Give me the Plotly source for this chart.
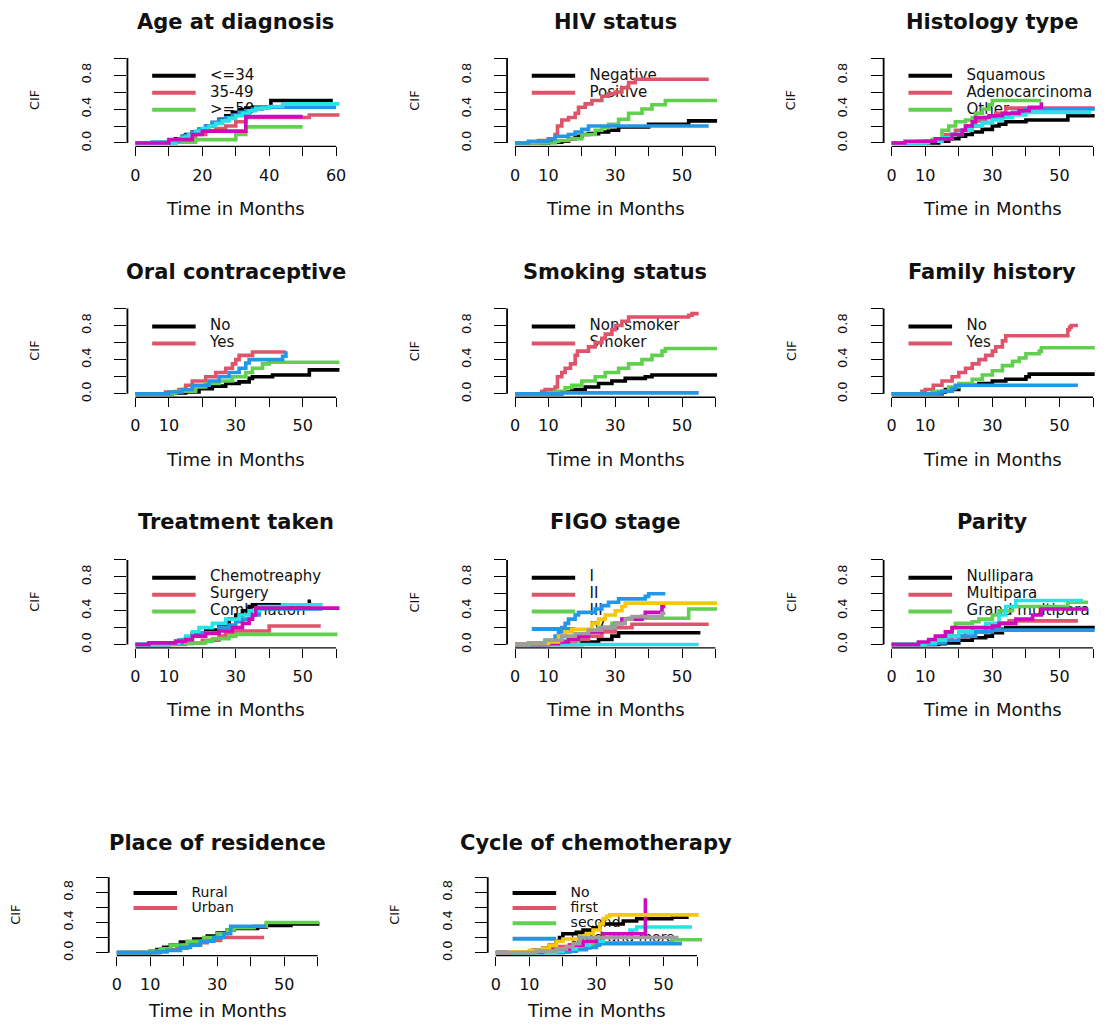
import plotly.graph_objects as go

# ---------------- data ----------------
PALETTE = ["#000000", "#DF536B", "#61D04F", "#2297E6", "#28E2E5", "#CD0BBC", "#F5C710", "#9E9E9E"]

x_tick_vals = [0, 10, 20, 30, 40, 50, 60]
x_tick_text_a = ["0", "", "20", "", "40", "", "60"]
x_tick_text_b = ["0", "10", "", "30", "", "50", ""]
y_tick_vals = [0, 0.2, 0.4, 0.6, 0.8, 1.0]
y_tick_text = ["0.0", "", "0.4", "", "0.8", ""]

# 1 Age at diagnosis
age_labels = ["<=34", "35-49", ">=50"]
age_times = [
    [0, 10, 12, 14, 15, 17, 19, 21, 23, 25, 27, 29, 31, 33, 35, 40.5, 59],
    [0, 12, 15, 18, 21, 24, 27, 30, 33, 52, 61],
    [0, 12, 18, 30, 33, 50],
    [0, 5, 10, 13, 15, 17, 19, 21, 23, 25, 27, 29, 31, 33, 35, 38, 60],
    [0, 12, 14, 16, 18, 20, 22, 24, 26, 28, 30, 32, 34, 36, 40, 44, 61],
    [0, 10, 17, 20, 33, 50],
]
age_cif = [
    [0, 0.02, 0.05, 0.08, 0.1, 0.13, 0.16, 0.2, 0.24, 0.28, 0.32, 0.36, 0.39, 0.41, 0.42, 0.5, 0.5],
    [0, 0.02, 0.06, 0.1, 0.14, 0.17, 0.2, 0.25, 0.3, 0.33, 0.33],
    [0, 0.01, 0.04, 0.1, 0.19, 0.19],
    [0, 0.01, 0.02, 0.05, 0.09, 0.13, 0.16, 0.2, 0.24, 0.27, 0.3, 0.33, 0.36, 0.38, 0.4, 0.42, 0.42],
    [0, 0.03, 0.07, 0.1, 0.14, 0.17, 0.2, 0.23, 0.26, 0.29, 0.32, 0.35, 0.38, 0.41, 0.43, 0.46, 0.46],
    [0, 0.04, 0.1, 0.14, 0.31, 0.31],
]

# 2 HIV status
hiv_labels = ["Negative", "Positive"]
hiv_times = [
    [0, 10, 14, 16, 18, 20, 22, 25, 28, 31, 40, 52, 60.5],
    [0, 7, 10, 12, 12.7, 14, 16, 18, 19, 21, 23, 26, 28, 30, 32, 34, 36, 58],
    [0, 12, 13, 16, 20, 24, 26, 28, 31, 34, 38, 41, 45, 60.5],
    [0, 4, 10, 12, 16, 18, 20, 22, 58],
]
hiv_cif = [
    [0, 0.01, 0.02, 0.05, 0.08, 0.1, 0.11, 0.13, 0.15, 0.19, 0.22, 0.26, 0.26],
    [0, 0.03, 0.05, 0.1, 0.2, 0.27, 0.3, 0.35, 0.42, 0.46, 0.5, 0.55, 0.58, 0.6, 0.65, 0.71, 0.75, 0.75],
    [0, 0.02, 0.03, 0.05, 0.1, 0.15, 0.18, 0.22, 0.28, 0.35, 0.4, 0.45, 0.5, 0.5],
    [0, 0.02, 0.05, 0.08, 0.1, 0.13, 0.16, 0.2, 0.2],
]

# 3 Histology type
hist_labels = ["Squamous", "Adenocarcinoma", "Other"]
hist_times = [
    [0, 14, 17, 20, 22, 24, 27, 30, 32, 34, 40, 52.5, 60.5],
    [0, 10, 13, 16, 19, 22, 25, 28, 31, 34, 60.5],
    [0, 8, 12, 15, 17, 19, 22, 24, 25, 27, 29, 30, 44.6],
    [0, 10, 14, 18, 21, 24, 27, 30, 33, 36, 40, 60.5],
    [0, 11, 15, 18, 21, 24, 27, 30, 33, 36, 40, 59.5],
    [0, 4, 13, 18, 21, 22, 24, 25, 29, 33, 38, 41, 44.6],
]
hist_cif = [
    [0, 0.02, 0.05, 0.08, 0.1, 0.13, 0.16, 0.2, 0.22, 0.25, 0.27, 0.32, 0.32],
    [0, 0.02, 0.05, 0.1, 0.15, 0.2, 0.26, 0.3, 0.35, 0.41, 0.41],
    [0, 0.02, 0.04, 0.15, 0.2, 0.25, 0.27, 0.3, 0.35, 0.4, 0.45, 0.5, 0.5],
    [0, 0.02, 0.05, 0.1, 0.15, 0.2, 0.24, 0.28, 0.32, 0.36, 0.4, 0.4],
    [0, 0.02, 0.06, 0.1, 0.15, 0.2, 0.24, 0.27, 0.3, 0.33, 0.36, 0.36],
    [0, 0.02, 0.05, 0.1, 0.15, 0.2, 0.25, 0.3, 0.32, 0.35, 0.38, 0.42, 0.48],
]

# 4 Oral contraceptive
oral_labels = ["No", "Yes"]
oral_times = [
    [0, 11, 15, 19, 23, 27, 31, 34, 35, 41, 52, 61],
    [0, 9, 13, 15, 17, 21, 24, 27, 29, 30, 31, 35, 45],
    [0, 12, 18, 21, 25, 29, 33, 35, 38, 40, 61],
    [0, 10, 14, 17, 22, 25, 28, 31, 33, 34, 44, 45],
]
oral_cif = [
    [0, 0.01, 0.02, 0.06, 0.09, 0.12, 0.14, 0.18, 0.2, 0.22, 0.28, 0.28],
    [0, 0.02, 0.05, 0.1, 0.15, 0.2, 0.25, 0.3, 0.35, 0.4, 0.45, 0.49, 0.49],
    [0, 0.03, 0.08, 0.12, 0.15, 0.2, 0.25, 0.3, 0.35, 0.37, 0.37],
    [0, 0.02, 0.05, 0.1, 0.15, 0.2, 0.25, 0.3, 0.36, 0.4, 0.44, 0.5],
]

# 5 Smoking status
smk_labels = ["Non smoker", "Smoker"]
smk_times = [
    [0, 14, 17, 21, 25, 29, 33, 39, 41, 60.5],
    [0, 8, 9, 12, 12.7, 14, 15, 16.6, 18, 18.7, 22, 24, 26, 27, 29, 30, 32, 34, 52, 53, 55],
    [0, 10, 12, 15, 17, 20, 24, 27, 31, 34, 38, 41, 44, 45, 60.5],
    [0, 14, 55],
]
smk_cif = [
    [0, 0.02, 0.05, 0.08, 0.12, 0.15, 0.18, 0.2, 0.22, 0.22],
    [0, 0.03, 0.05, 0.08, 0.2, 0.25, 0.3, 0.35, 0.45, 0.5, 0.55, 0.6, 0.65, 0.7, 0.75, 0.8, 0.85, 0.9, 0.92, 0.94, 0.94],
    [0, 0.01, 0.03, 0.07, 0.1, 0.15, 0.2, 0.25, 0.3, 0.35, 0.4, 0.45, 0.5, 0.53, 0.53],
    [0, 0.01, 0.01],
]

# 6 Family history
fam_labels = ["No", "Yes"]
fam_times = [
    [0, 15, 16, 20, 26, 30, 34, 40, 41, 60.5],
    [0, 9, 10, 12.4, 15, 18, 20, 22, 24, 26, 28, 30, 31, 33, 34, 52.5, 53, 53.5, 55.5],
    [0, 12, 13, 17, 20, 24, 27, 30, 33, 36, 38, 40, 44, 44.6, 60.5],
    [0, 14, 15, 18, 19, 55.5],
]
fam_cif = [
    [0, 0.02, 0.05, 0.1, 0.12, 0.15, 0.17, 0.2, 0.23, 0.23],
    [0, 0.03, 0.05, 0.1, 0.15, 0.2, 0.25, 0.3, 0.35, 0.4, 0.45, 0.5, 0.55, 0.62, 0.68, 0.75, 0.78, 0.8, 0.8],
    [0, 0.02, 0.03, 0.08, 0.12, 0.17, 0.22, 0.27, 0.33, 0.38, 0.42, 0.47, 0.5, 0.54, 0.54],
    [0, 0.01, 0.03, 0.06, 0.1, 0.1],
]

# 7 Treatment taken
trt_labels = ["Chemotreaphy", "Surgery", "Combination"]
trt_times = [
    [0, 10, 13, 17, 21, 25, 28, 30, 32, 34, 35, 52, 52.5],
    [0, 15, 20, 25, 27, 30, 40, 55.4],
    [0, 12, 17, 21, 23, 28, 30, 60.4],
    [0, 10, 14, 17, 20, 25, 28, 30, 32, 35, 37, 56],
    [0, 10, 13, 15, 17, 19, 23, 27, 31, 34, 37, 44, 56],
    [0, 4, 12, 15, 17, 21, 25, 29, 32, 34, 35, 36, 61],
]
trt_cif = [
    [0, 0.02, 0.05, 0.13, 0.17, 0.23, 0.3, 0.35, 0.4, 0.45, 0.47, 0.51, 0.51],
    [0, 0.02, 0.05, 0.1, 0.14, 0.16, 0.22, 0.22],
    [0, 0.01, 0.02, 0.04, 0.07, 0.1, 0.12, 0.12],
    [0, 0.02, 0.06, 0.1, 0.14, 0.2, 0.23, 0.27, 0.3, 0.35, 0.42, 0.42],
    [0, 0.02, 0.05, 0.1, 0.15, 0.2, 0.25, 0.3, 0.35, 0.4, 0.45, 0.47, 0.47],
    [0, 0.02, 0.04, 0.06, 0.1, 0.13, 0.16, 0.2, 0.25, 0.3, 0.35, 0.43, 0.43],
]

# 8 FIGO stage
figo_labels = ["I", "II", "III", "IV"]
figo_times = [
    [0, 20, 25, 29, 31, 55.5],
    [0, 10, 14, 18, 22, 26, 30, 35, 58],
    [0, 9, 15, 19, 22, 25, 29, 32, 34, 52, 60.5],
    [0, 9, 12, 13, 14, 15, 16, 18, 19, 24, 26, 28, 31, 39, 40, 45],
    [0, 55],
    [0, 10, 13, 16, 19, 22, 26, 30, 32, 38, 39, 44, 45],
    [0, 4, 10, 13, 15, 17, 23, 25, 27, 30, 32, 33, 60.5],
    [0, 4, 9, 14, 18, 22, 26, 30, 33, 35, 44, 45],
]
figo_cif = [
    [0, 0.03, 0.06, 0.1, 0.14, 0.14],
    [0, 0.01, 0.03, 0.06, 0.1, 0.15, 0.2, 0.24, 0.24],
    [0, 0.01, 0.05, 0.1, 0.15, 0.2, 0.25, 0.3, 0.31, 0.42, 0.42],
    [0, 0.05, 0.1, 0.15, 0.2, 0.25, 0.3, 0.35, 0.38, 0.42, 0.46, 0.5, 0.54, 0.57, 0.6, 0.6],
    [0, 0],
    [0, 0.01, 0.03, 0.06, 0.1, 0.15, 0.2, 0.25, 0.3, 0.33, 0.38, 0.45, 0.45],
    [0, 0.01, 0.03, 0.1, 0.15, 0.18, 0.25, 0.3, 0.35, 0.4, 0.45, 0.49, 0.49],
    [0, 0.02, 0.05, 0.1, 0.13, 0.17, 0.2, 0.25, 0.3, 0.33, 0.37, 0.37],
]

# 9 Parity
par_labels = ["Nullipara", "Multipara", "Grand multipara"]
par_times = [
    [0, 14, 16, 20, 24, 28, 30, 33, 34, 60.5],
    [0, 10, 14, 18, 22, 28, 32, 35, 55.5],
    [0, 8, 12, 15, 17, 18, 19, 24, 26, 30, 32, 36, 52.5, 58.5],
    [0, 13, 16, 20, 25, 30, 60.5],
    [0, 10, 13, 16, 20, 24, 28, 32, 34, 37, 57],
    [0, 8, 11, 13, 16, 18, 30, 32, 37, 42, 44.6, 58.5],
]
par_cif = [
    [0, 0.01, 0.02, 0.05, 0.08, 0.1, 0.14, 0.18, 0.2, 0.2],
    [0, 0.02, 0.05, 0.1, 0.15, 0.2, 0.25, 0.28, 0.28],
    [0, 0.02, 0.05, 0.1, 0.15, 0.2, 0.25, 0.27, 0.3, 0.35, 0.4, 0.45, 0.5, 0.5],
    [0, 0.02, 0.05, 0.1, 0.15, 0.17, 0.17],
    [0, 0.02, 0.05, 0.1, 0.15, 0.2, 0.25, 0.35, 0.45, 0.52, 0.52],
    [0, 0.03, 0.06, 0.1, 0.15, 0.2, 0.22, 0.25, 0.3, 0.35, 0.42, 0.42],
]

# 10 Place of residence
res_labels = ["Rural", "Urban"]
res_times = [
    [0, 10, 12, 14, 16, 19, 23, 27, 30, 33, 35, 42, 44.6, 52, 60.5],
    [0, 13, 15, 18, 21, 24, 27, 31, 44],
    [0, 10, 13, 16, 21, 26, 30, 33, 35, 41, 44.6, 60.5],
    [0, 12, 15, 19, 22, 25, 29, 32, 34, 44.6],
]
res_cif = [
    [0, 0.02, 0.04, 0.07, 0.1, 0.14, 0.18, 0.22, 0.26, 0.3, 0.32, 0.34, 0.36, 0.38, 0.38],
    [0, 0.02, 0.04, 0.06, 0.1, 0.13, 0.16, 0.2, 0.2],
    [0, 0.02, 0.05, 0.1, 0.15, 0.2, 0.25, 0.3, 0.33, 0.35, 0.4, 0.4],
    [0, 0.01, 0.03, 0.07, 0.1, 0.15, 0.2, 0.25, 0.35, 0.35],
]

# 11 Cycle of chemotherapy
cyc_labels = ["No", "first", "second", "third and more"]
cyc_times = [
    [0, 9, 11, 14, 16, 18, 19, 20, 24, 26, 29, 31, 38, 42, 52.5, 57.5],
    [0, 12, 15, 19, 22, 24, 30],
    [0, 14, 22, 24, 28, 30, 52.5, 61.5],
    [0, 20, 22, 24, 27, 30, 31, 55.5],
    [0, 18, 20, 24, 28, 32, 36, 40, 42, 58.5],
    [0, 4, 14, 18, 22, 26, 30, 32, 44.6],
    [0, 4, 10, 14, 16, 18, 20, 25, 27, 29, 31, 32, 33, 34, 60.5],
    [0, 12, 18, 21, 23, 25, 54.5],
]
cyc_cif = [
    [0, 0.01, 0.03, 0.06, 0.1, 0.15, 0.2, 0.25, 0.27, 0.3, 0.33, 0.38, 0.42, 0.45, 0.47, 0.47],
    [0, 0.02, 0.05, 0.08, 0.1, 0.12, 0.12],
    [0, 0.01, 0.03, 0.06, 0.1, 0.13, 0.17, 0.17],
    [0, 0.01, 0.02, 0.04, 0.07, 0.1, 0.12, 0.12],
    [0, 0.02, 0.05, 0.1, 0.15, 0.2, 0.25, 0.3, 0.34, 0.34],
    [0, 0.01, 0.03, 0.05, 0.1, 0.15, 0.2, 0.25, 0.72],
    [0, 0.01, 0.03, 0.06, 0.1, 0.15, 0.18, 0.22, 0.25, 0.3, 0.38, 0.45, 0.48, 0.5, 0.5],
    [0, 0.02, 0.05, 0.08, 0.12, 0.2, 0.2],
]

titles = ["Age at diagnosis", "HIV status", "Histology type", "Oral contraceptive",
          "Smoking status", "Family history", "Treatment taken", "FIGO stage",
          "Parity", "Place of residence", "Cycle of chemotherapy"]
all_labels = [age_labels, hiv_labels, hist_labels, oral_labels, smk_labels, fam_labels,
              trt_labels, figo_labels, par_labels, res_labels, cyc_labels]
all_times = [age_times, hiv_times, hist_times, oral_times, smk_times, fam_times,
             trt_times, figo_times, par_times, res_times, cyc_times]
all_cif = [age_cif, hiv_cif, hist_cif, oral_cif, smk_cif, fam_cif,
           trt_cif, figo_cif, par_cif, res_cif, cyc_cif]
all_xticktext = [x_tick_text_a] + [x_tick_text_b] * 10

# ---------------- layout geometry (pixels) ----------------
W, H = 1108, 1025
COLS = [(135.7, 336.7), (516.0, 716.7), (893.3, 1095.0)]
ROWS = [(143.7, 58.3, 21.7, 209.3), (395.7, 310.0, 273.3, 461.7), (647.7, 562.7, 525.0, 713.3)]
GEOM = []
for r in range(3):
    for c in range(3):
        GEOM.append(COLS[c] + ROWS[r])
GEOM.append((117.0, 318.3, 957.3, 881.5, 846.7, 1015.0))
GEOM.append((496.7, 698.3, 957.3, 881.5, 846.7, 1015.0))
LEG_FONT = [15] * 9 + [14, 14]

XR = [-2.4, 62.4]
YR = [-0.04, 1.04]
LEG_Y = [0.79, 0.59, 0.39, 0.185]
LEG_X = [5, 18]
LEG_TX = 22.3

FONT = "DejaVu Sans"
fig = go.Figure()
shapes = []
annotations = []

for i in range(1, 12):
    title = titles[i - 1]
    labels = all_labels[i - 1]
    x0p, x60p, y0p, y1p, ty, xly = GEOM[i - 1]
    s = (x60p - x0p) / 60.0
    t = (y0p - y1p)
    left = x0p - 2.4 * s
    right = x60p + 2.4 * s
    bottom = y0p + 0.04 * t
    top = y1p - 0.04 * t
    xa = "x" if i == 1 else f"x{i}"
    ya = "y" if i == 1 else f"y{i}"
    sfx = "" if i == 1 else str(i)

    fig.layout[f"xaxis{sfx}"] = dict(
        domain=[left / W, right / W], range=XR, anchor=ya,
        showgrid=False, zeroline=False, showline=False,
        ticks="outside", ticklen=9, tickwidth=1.4, tickcolor="#000",
        tickvals=x_tick_vals, ticktext=all_xticktext[i - 1],
        tickfont=dict(family=FONT, size=16, color="#111"),
        ticklabelstandoff=5, fixedrange=True,
    )
    fig.layout[f"yaxis{sfx}"] = dict(
        domain=[1 - bottom / H, 1 - top / H], range=YR, anchor=xa,
        showgrid=False, zeroline=False, showline=False,
        ticks="outside", ticklen=12, tickwidth=1.4, tickcolor="#000",
        tickvals=y_tick_vals, ticktext=y_tick_text, tickangle=-90,
        tickfont=dict(family=FONT, size=13, color="#111"),
        ticklabelstandoff=18, fixedrange=True,
    )
    # R-style axis lines (span only the tick range)
    shapes.append(dict(type="line", xref=xa, yref=f"{ya} domain", x0=0, x1=60, y0=0, y1=0,
                       line=dict(color="#000", width=1.4)))
    shapes.append(dict(type="line", xref=f"{xa} domain", yref=ya, x0=0, x1=0, y0=0, y1=1,
                       line=dict(color="#000", width=1.8)))

    # legend (drawn first so curves overlay it)
    for k, lab in enumerate(labels):
        fig.add_trace(go.Scatter(x=LEG_X, y=[LEG_Y[k]] * 2, mode="lines",
                                 line=dict(color=PALETTE[k], width=4),
                                 xaxis=xa, yaxis=ya, hoverinfo="skip", showlegend=False))
        fig.add_trace(go.Scatter(x=[LEG_TX], y=[LEG_Y[k]], mode="text", text=[lab],
                                 textposition="middle right", cliponaxis=True,
                                 textfont=dict(family=FONT, size=LEG_FONT[i - 1], color="#111"),
                                 xaxis=xa, yaxis=ya, hoverinfo="skip", showlegend=False))
    # CIF step curves
    for k, (tt, vv) in enumerate(zip(all_times[i - 1], all_cif[i - 1])):
        fig.add_trace(go.Scatter(x=tt, y=vv, mode="lines",
                                 line=dict(color=PALETTE[k], width=3.6, shape="hv"),
                                 xaxis=xa, yaxis=ya, hoverinfo="skip", showlegend=False))

    cx = (left + right) / 2
    annotations.append(dict(text=title, xref="paper", yref="paper", x=cx / W, y=1 - ty / H,
                            xanchor="center", yanchor="middle", showarrow=False,
                            font=dict(family=FONT, size=21, color="#111", weight="bold")))
    annotations.append(dict(text="Time in Months", xref="paper", yref="paper", x=cx / W,
                            y=1 - xly / H, xanchor="center", yanchor="middle", showarrow=False,
                            font=dict(family=FONT, size=18, color="#111")))
    annotations.append(dict(text="CIF", xref="paper", yref="paper", x=(left - 93) / W,
                            y=1 - ((y0p + y1p) / 2) / H, xanchor="center", yanchor="middle",
                            textangle=-90, showarrow=False,
                            font=dict(family=FONT, size=13, color="#111")))

fig.update_layout(width=W, height=H, autosize=False,
                  margin=dict(l=0, r=0, t=0, b=0, pad=0),
                  paper_bgcolor="white", plot_bgcolor="white",
                  shapes=shapes, annotations=annotations, showlegend=False)

fig.write_html("out.html", config={"displayModeBar": False},
               post_script="document.body.style.margin='0';document.body.style.padding='0';")
